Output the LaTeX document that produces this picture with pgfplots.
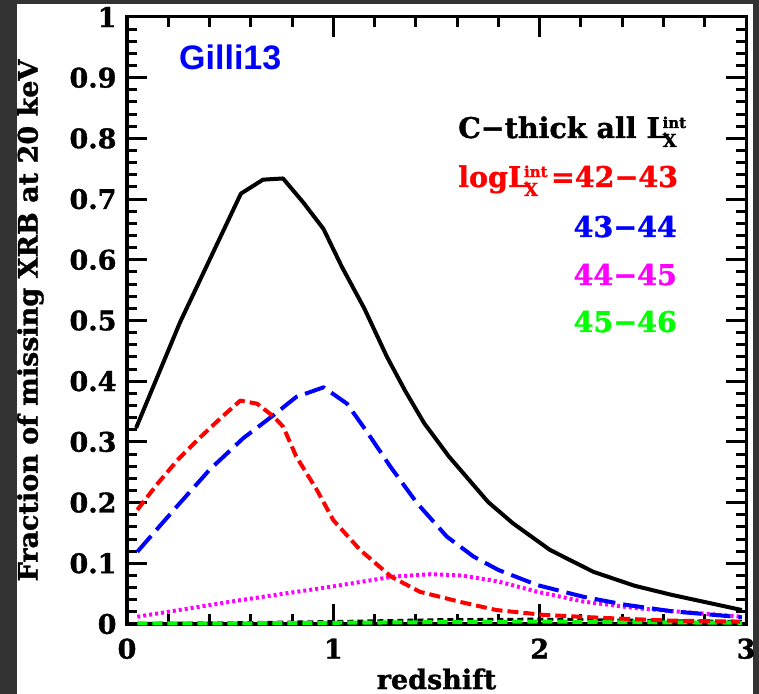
\documentclass[border=0pt]{standalone}
\usepackage{fontspec}
\usepackage{pgfplots}
\pgfplotsset{compat=1.18}
\usepackage{pgfplotstable}
\newfontfamily\lf{DejaVu Serif}[BoldFeatures={FakeBold=1.2}]
\newfontfamily\gf{Liberation Sans}
\newcommand\lab{\lf\bfseries\fontsize{27bp}{30bp}\selectfont}
\newcommand\leg{\lf\bfseries\fontsize{28.5bp}{30bp}\selectfont}
\definecolor{bgdark}{RGB}{51,51,51}
\definecolor{cred}{RGB}{255,0,0}
\definecolor{cblue}{RGB}{0,0,255}
\definecolor{cmag}{RGB}{255,0,255}
\definecolor{cgreen}{RGB}{0,255,0}
\newcommand\Lx{L\kern-4bp\rlap{\raisebox{10bp}{\fontsize{15bp}{15bp}\selectfont int}}\raisebox{-9bp}{\fontsize{18bp}{18bp}\selectfont X}}

\pgfplotstableread{
z f
0.044 0.323
0.257 0.497
0.552 0.709
0.659 0.732
0.756 0.734
0.853 0.695
0.952 0.651
1.042 0.588
1.15 0.520
1.26 0.440
1.35 0.383
1.44 0.331
1.56 0.276
1.75 0.201
1.87 0.166
2.05 0.122
2.26 0.086
2.46 0.063
2.64 0.048
2.98 0.023
}\blackdata

\pgfplotstableread{
z f
0.05 0.188
0.15 0.232
0.25 0.272
0.35 0.306
0.45 0.338
0.549 0.368
0.63 0.363
0.71 0.342
0.757 0.325
0.82 0.276
0.92 0.221
1.0 0.171
1.13 0.122
1.28 0.078
1.42 0.053
1.62 0.036
1.79 0.023
2.02 0.015
2.31 0.010
2.64 0.0055
2.97 0.004
}\reddata

\pgfplotstableread{
z f
0.05 0.119
0.24 0.193
0.40 0.254
0.563 0.306
0.71 0.344
0.82 0.374
0.953 0.390
1.066 0.363
1.16 0.318
1.277 0.259
1.406 0.199
1.55 0.144
1.68 0.111
1.80 0.089
1.99 0.064
2.21 0.045
2.41 0.032
2.64 0.021
2.98 0.011
}\bluedata

\pgfplotstableread{
z f
0.05 0.012
0.563 0.040
1.0 0.062
1.29 0.078
1.47 0.082
1.62 0.080
1.80 0.070
1.99 0.053
2.21 0.037
2.47 0.026
2.98 0.012
}\magdata

\pgfplotstableread{
z f
0.05 0.001
0.5 0.002
1.0 0.004
1.5 0.007
2.0 0.008
2.5 0.006
2.98 0.004
}\blackzero

\pgfplotstableread{
z f
0.05 0.001
0.5 0.001
1.0 0.002
1.5 0.003
2.0 0.004
2.5 0.003
2.98 0.002
}\greendata

\begin{document}
\begin{tikzpicture}
\path[use as bounding box, fill=bgdark] (0bp,0bp) rectangle (759bp,694bp);
\fill[white] (17bp,0bp) rectangle (753bp,690bp);
\begin{axis}[
  at={(127bp,70bp)}, anchor=south west,
  scale only axis, width=619bp, height=607bp,
  xmin=0, xmax=3, ymin=0, ymax=1,
  xtick={0,1,2,3}, ytick={0,0.1,0.2,0.3,0.4,0.5,0.6,0.7,0.8,0.9,1},
  minor x tick num=4, minor y tick num=4,
  tick pos=both, tick align=inside,
  major tick length=20bp, minor tick length=10bp,
  every tick/.style={black, line width=3bp},
  axis line style={line width=3bp},
  ticklabel style={font=\lab},
  /pgf/number format/assume math mode=true,
  yticklabel style={xshift=-7bp},
  xticklabel style={yshift=-11bp},
  xlabel={redshift},
  ylabel={Fraction of missing XRB at 20 keV},
  every axis x label/.style={at={(axis description cs:0.5,0)}, anchor=north, yshift=-41bp, font=\lab},
  every axis y label/.style={at={(axis description cs:-0.156,0.5)}, rotate=90, anchor=center, font=\lab},
  clip=false,
]
\addplot[black, line width=3bp, dash pattern=on 6bp off 4bp] table[x=z,y=f] {\blackzero};
\addplot[cgreen, line width=4bp, dash pattern=on 10bp off 5bp] table[x=z,y=f] {\greendata};
\addplot[cmag, line width=4bp, dash pattern=on 3bp off 3bp] table[x=z,y=f] {\magdata};
\addplot[cblue, line width=4bp, dash pattern=on 21bp off 8bp, line join=round] table[x=z,y=f] {\bluedata};
\addplot[cred, line width=4bp, dash pattern=on 11bp off 5bp, line join=round] table[x=z,y=f] {\reddata};
\addplot[black, line width=4bp, line join=round] table[x=z,y=f] {\blackdata};
\end{axis}
\node[anchor=base west, inner sep=0, text=cblue, font=\gf\bfseries\fontsize{34bp}{36bp}\selectfont] at (179bp,624bp) {Gilli13};
\node[anchor=base west, inner sep=0, font=\leg] at (458bp,556bp) {C−thick all \Lx};
\node[anchor=base west, inner sep=0, font=\leg, text=cred] at (458bp,507bp) {log\Lx\kern13bp=42−43};
\node[anchor=base east, inner sep=0, font=\leg, text=cblue] at (677bp,457bp) {43−44};
\node[anchor=base east, inner sep=0, font=\leg, text=cmag] at (677bp,409bp) {44−45};
\node[anchor=base east, inner sep=0, font=\leg, text=cgreen] at (677bp,362bp) {45−46};
\end{tikzpicture}
\end{document}
